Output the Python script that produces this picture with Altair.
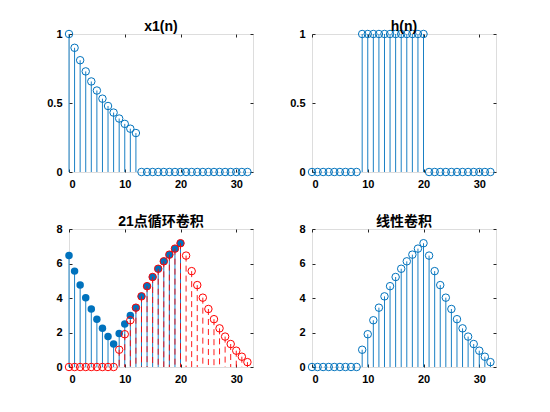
import altair as alt
import pandas as pd

# ---------------- data ----------------
n_all = list(range(33))
n_circ = list(range(21))

x1_vals = [1, 0.9, 0.81, 0.729, 0.6561, 0.5905, 0.5314, 0.4783, 0.4305, 0.3874,
           0.3487, 0.3138, 0.2824, 0, 0, 0, 0, 0, 0, 0, 0, 0, 0, 0, 0, 0, 0, 0,
           0, 0, 0, 0, 0]
h_vals = [0, 0, 0, 0, 0, 0, 0, 0, 0, 1, 1, 1, 1, 1, 1, 1, 1, 1, 1, 1, 1,
          0, 0, 0, 0, 0, 0, 0, 0, 0, 0, 0, 0]
y_lin = [0, 0, 0, 0, 0, 0, 0, 0, 0, 1, 1.9, 2.71, 3.439, 4.0951, 4.6856,
         5.217, 5.6953, 6.1258, 6.5132, 6.8619, 7.1757, 6.4581, 5.5581,
         4.7481, 4.0191, 3.363, 2.7725, 2.2411, 1.7628, 1.3323, 0.9449,
         0.5962, 0.2824]
y_circ = [6.4581, 5.5581, 4.7481, 4.0191, 3.363, 2.7725, 2.2411, 1.7628,
          1.3323, 1.9449, 2.4962, 2.9924, 3.439, 4.0951, 4.6856, 5.217,
          5.6953, 6.1258, 6.5132, 6.8619, 7.1757]

titles = ["x1(n)", "h(n)", "21点循环卷积", "线性卷积"]
x_ticks = [0, 10, 20, 30]
y_ticks_small = [0, 0.5, 1]
y_ticks_big = [0, 2, 4, 6, 8]

# ---------------- style ----------------
FONT = "Liberation Sans, Noto Sans CJK SC"
BLUE = "#0072BD"
RED = "#FF0000"
AX = "#262626"
W, H = 184, 138
PT = 56
FMT = ".1~f"
LBL = dict(labelFont=FONT, labelFontSize=11, labelFontWeight="bold", labelColor="black",
           tickColor=AX, tickWidth=1)


def df(xs, vs):
    return pd.DataFrame({"n": xs, "v": vs})


def xs(axis):
    return alt.X("n:Q", scale=alt.Scale(domain=[0, 33], nice=False, zero=False), axis=axis)


def ys(axis, ydom):
    return alt.Y("v:Q", scale=alt.Scale(domain=ydom, nice=False), axis=axis)


def main_axes(yticks):
    xa = alt.Axis(orient="bottom", values=x_ticks, offset=-3, tickSize=3, domain=False,
                  grid=False, labelPadding=6, title=None, format=FMT, **LBL)
    ya = alt.Axis(orient="left", values=yticks, offset=-3, tickSize=3, domain=False,
                  grid=False, labelPadding=7, title=None, format=FMT, **LBL)
    return xa, ya


def side_axes(yticks):
    xa = alt.Axis(orient="top", values=x_ticks, offset=-3, tickSize=3, domain=False,
                  grid=False, labels=False, title=None, minExtent=0, maxExtent=0,
                  tickColor=AX, tickWidth=1)
    ya = alt.Axis(orient="right", values=yticks, offset=-3, tickSize=3, domain=False,
                  grid=False, labels=False, title=None, minExtent=0, maxExtent=0,
                  tickColor=AX, tickWidth=1)
    return xa, ya


def stem_layer(data, color, ydom, axes=None, dash=None):
    xa, ya = axes if axes else (None, None)
    kw = dict(color=color, strokeWidth=0.9)
    if dash:
        kw["strokeDash"] = dash
    return alt.Chart(data).mark_rule(**kw).encode(
        x=xs(xa), y=ys(ya, ydom), y2=alt.datum(0)
    )


def point_layer(data, color, ydom, axes=None, filled=False):
    xa, ya = axes if axes else (None, None)
    return alt.Chart(data).mark_point(
        shape="circle", filled=filled, size=PT, color=color, strokeWidth=1,
        opacity=1, fillOpacity=1 if filled else 0
    ).encode(x=xs(xa), y=ys(ya, ydom))


def panel(layers, title):
    return alt.layer(*layers).resolve_axis(x="independent", y="independent").properties(
        width=W, height=H,
        title=alt.TitleParams(title, font=FONT, fontSize=14, fontWeight="bold",
                              color="black", offset=-6),
    )


d_x1 = df(n_all, x1_vals)
d_h = df(n_all, h_vals)
d_lin = df(n_all, y_lin)
d_circ = df(n_circ, y_circ)

p1 = panel([
    stem_layer(d_x1, BLUE, [0, 1], main_axes(y_ticks_small)),
    point_layer(d_x1, BLUE, [0, 1], side_axes(y_ticks_small)),
], titles[0])

p2 = panel([
    stem_layer(d_h, BLUE, [0, 1], main_axes(y_ticks_small)),
    point_layer(d_h, BLUE, [0, 1], side_axes(y_ticks_small)),
], titles[1])

p3 = panel([
    stem_layer(d_circ, BLUE, [0, 8], main_axes(y_ticks_big)),
    point_layer(d_circ, BLUE, [0, 8], side_axes(y_ticks_big), filled=True),
    stem_layer(d_lin, RED, [0, 8], None, dash=[6, 4]),
    point_layer(d_lin, RED, [0, 8], None),
], titles[2])

p4 = panel([
    stem_layer(d_lin, BLUE, [0, 8], main_axes(y_ticks_big)),
    point_layer(d_lin, BLUE, [0, 8], side_axes(y_ticks_big)),
], titles[3])

chart = alt.concat(
    p1, p2, p3, p4, columns=2, bounds="flush",
    spacing=alt.RowColnumber(row=57, column=59),
).properties(
    padding={"left": 38, "top": 11, "right": 5, "bottom": 5}
).configure_view(
    stroke=AX, strokeWidth=1
).configure(background="white")

chart.save("out.html", embed_options={"renderer": "svg", "actions": False})
